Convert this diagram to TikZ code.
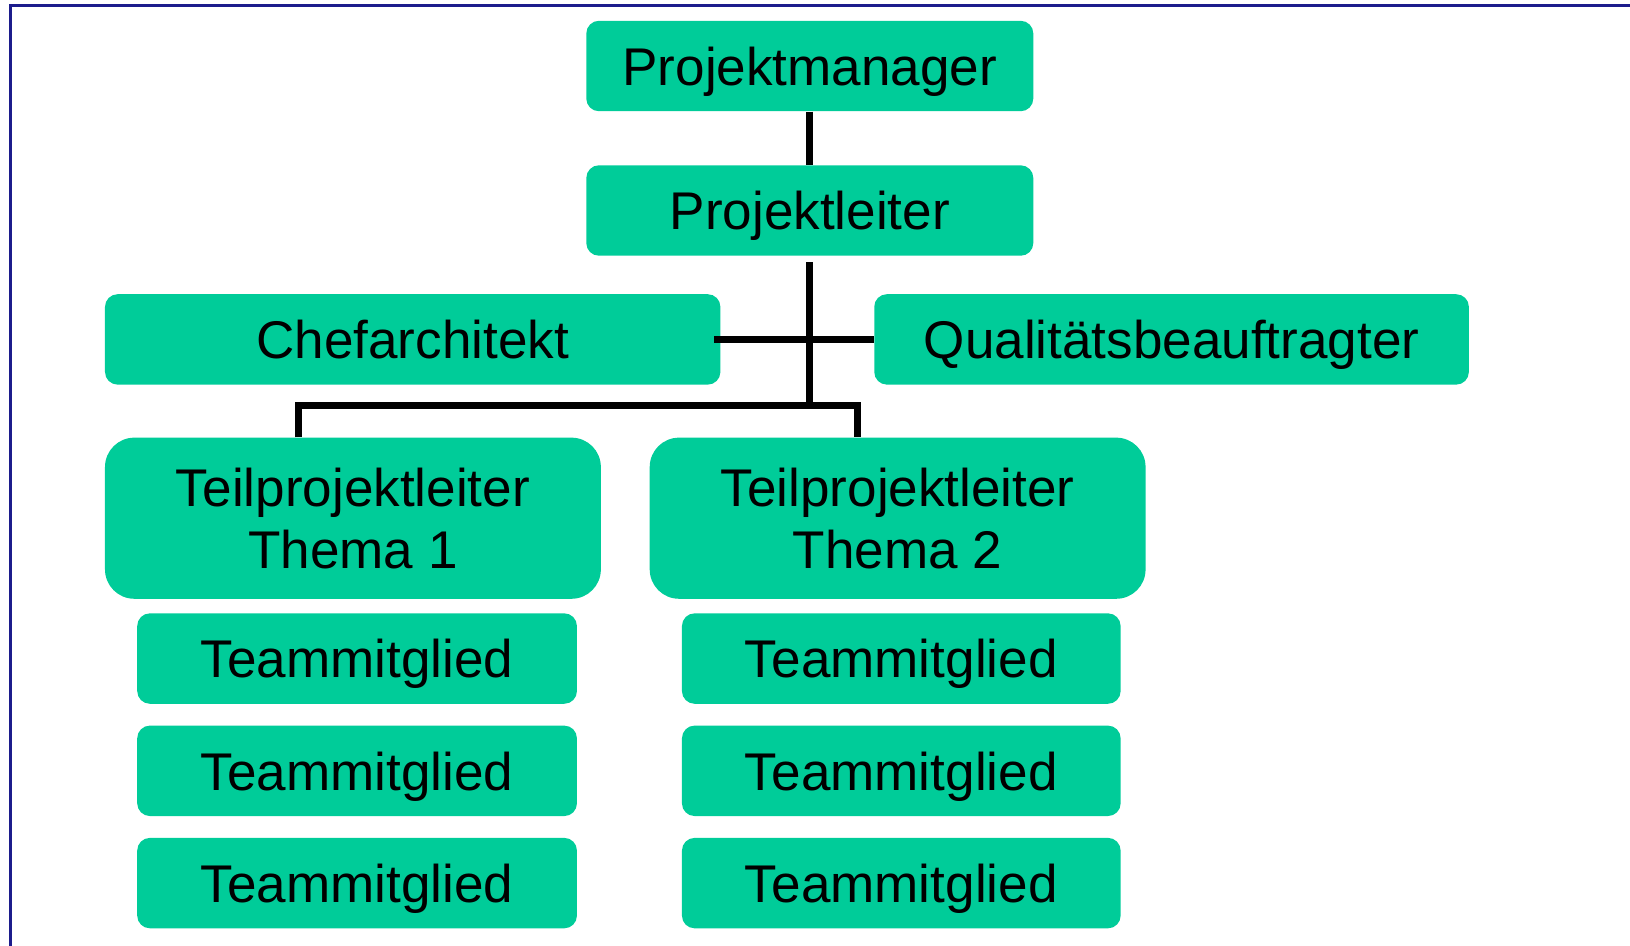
\documentclass[tikz,border=0pt]{standalone}
\usepackage{fontspec}
\setmainfont{Liberation Sans}
\definecolor{boxgreen}{RGB}{0,204,153}
\definecolor{frameblue}{RGB}{28,28,140}
\begin{document}
\begin{tikzpicture}[x=0.7796pt,y=-0.7796pt,
  box/.style={rectangle, rounded corners=9.5pt, fill=boxgreen, inner sep=0pt,
    minimum width=#1*0.7796pt, minimum height=87*0.7796pt, align=center,
    text depth=0pt, font=\fontsize{39.8}{46.8}\selectfont},
  bigbox/.style={box=#1, rounded corners=22pt, minimum height=155*0.7796pt},
  conn/.style={line width=6.5*0.7796pt, black, line join=miter}]
\useasboundingbox (0,0) rectangle (1568,910);
\draw[frameblue, line width=2.5*0.7796pt] (10,910) -- (10,5) -- (1568,5);

\node[box=430] (pm) at (779,63.5) {Projektmanager};
\node[box=430] (pl) at (779,202.5) {Projektleiter};
\node[box=592] (ca) at (397,326.5) {Chefarchitekt};
\node[box=572] (qa) at (1127,326.5) {Qualitätsbeauftragter};
\node[bigbox=477] (tp1) at (339.5,498.5) {Teilprojektleiter\\Thema 1};
\node[bigbox=477] (tp2) at (863.5,498.5) {Teilprojektleiter\\Thema 2};
\node[box=423] (t11) at (343.5,633.5) {Teammitglied};
\node[box=423] (t12) at (343.5,741.5) {Teammitglied};
\node[box=423] (t13) at (343.5,849.5) {Teammitglied};
\node[box=422] (t21) at (867,633.5) {Teammitglied};
\node[box=422] (t22) at (867,741.5) {Teammitglied};
\node[box=422] (t23) at (867,849.5) {Teammitglied};

\coordinate (bus) at (779,390);
\coordinate (b1) at (287,390);
\coordinate (b2) at (825,390);
\draw[conn] (pm.south) -- (pl.north);
\draw[conn] ([yshift=-6*0.7796pt]pl.south) -- (bus);
\draw[conn] ([xshift=-6*0.7796pt]ca.east) -- (qa.west);
\draw[conn] (b1 |- tp1.north) -- (b1) -- (b2) -- (b2 |- tp2.north);
\end{tikzpicture}
\end{document}
